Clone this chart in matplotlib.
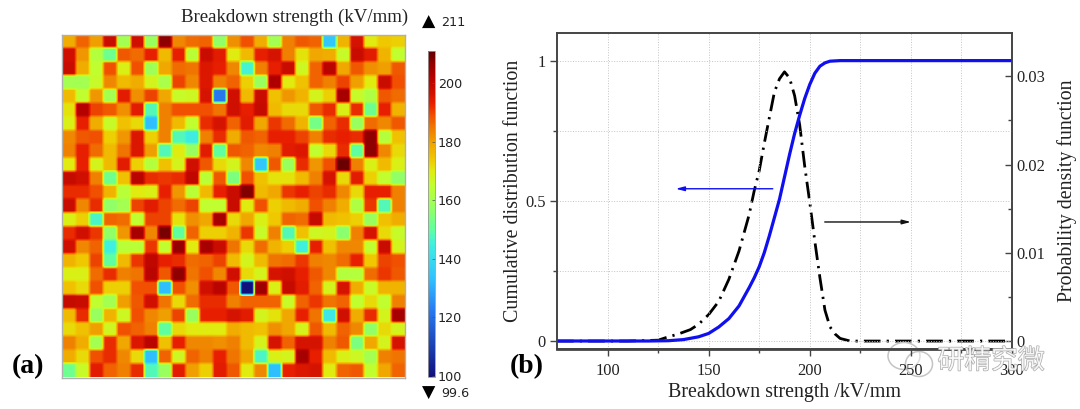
import numpy as np
import matplotlib
matplotlib.use("Agg")
import matplotlib.pyplot as plt
from matplotlib.colors import LinearSegmentedColormap
from matplotlib.patches import Ellipse
import matplotlib.patheffects as pe

W, H = 1080, 409

strength_rows = [
 [178,187,180,198,160,197,158,207,183,186,187,157,182, 189,178,160,184,188,187,135,177,196,170,174,173],
 [197,181,163,152,188,186,193,176,193,164,198,194,170, 176,193,196,184,171,179,178,166,198,194,177,165],
 [198,178,165,189,169,189,159,179,186,185,195,193,183, 146,184,193,198,167,187,201,179,188,182,180,188],
 [160,160,166,183,176,178,168,161,190,183,195,184,187, 173,158,203,170,175,187,184,190,180,170,198,189],
 [176,165,181,160,194,182,190,179,166,167,196,122,197, 176,198,175,181,177,168,173,204,166,162,188,186],
 [171,202,190,188,182,194,148,184,189,189,189,185,197, 193,199,176,172,172,188,192,169,192,152,193,177],
 [169,193,178,166,175,172,133,184,176,165,192,196,187, 194,179,191,186,177,153,187,192,158,186,183,188],
 [183,188,189,173,181,195,173,184,148,144,184,192,178, 188,187,193,193,190,184,192,193,192,207,163,175],
 [184,193,186,176,185,195,180,148,170,158,194,150,188, 187,183,184,194,195,165,172,192,150,207,183,172],
 [170,193,168,176,194,173,163,175,168,197,188,172,168, 183,135,188,158,192,181,189,210,184,169,176,169],
 [199,197,184,152,175,201,192,191,192,200,164,188,154, 189,175,171,171,176,184,196,172,194,173,165,157],
 [192,192,189,177,164,170,169,193,181,164,176,193,198, 208,176,179,191,193,190,192,183,172,193,193,184],
 [198,183,192,157,160,190,194,190,186,190,165,165,198, 170,189,173,176,178,189,184,178,162,191,148,184],
 [169,173,147,187,186,165,190,190,171,182,179,204,172, 179,169,174,187,186,199,176,175,173,158,175,178],
 [192,197,191,157,181,204,183,209,150,187,173,173,177, 191,166,184,148,175,167,168,156,184,196,172,166],
 [197,183,187,145,164,164,191,165,206,170,204,198,185, 172,186,177,173,145,193,175,183,183,165,198,168],
 [177,174,190,150,176,191,200,193,192,186,187,190,176, 168,176,185,186,191,184,183,186,193,174,190,189],
 [169,169,186,192,184,185,201,188,207,185,189,183,197, 172,168,196,197,193,188,183,163,163,186,191,188],
 [175,172,189,173,173,189,189,133,189,182,197,201,188, 100,205,169,199,194,187,168,196,178,166,177,177],
 [199,198,165,160,180,188,197,185,172,186,192,192,184, 187,187,187,166,187,191,185,187,165,172,165,184],
 [176,192,158,177,167,189,183,180,190,158,193,193,196, 194,168,171,179,193,185,143,197,178,192,168,204],
 [172,175,180,167,189,187,184,150,172,170,170,170,178, 176,175,182,179,168,188,176,187,183,157,172,168],
 [184,178,160,192,179,195,201,175,193,183,183,182,184, 176,168,196,187,196,196,184,188,154,179,168,196],
 [178,172,189,192,183,172,133,187,167,187,184,193,185, 179,147,169,168,204,193,176,169,167,160,184,185],
 [152,166,194,187,184,192,148,158,194,180,173,194,188, 170,183,133,193,195,196,170,187,188,165,179,187],
]
cbar_ticks = [100, 120, 140, 160, 180, 200]
map_min, map_max = 99.6, 211

scale_values = [99.6, 122, 133, 145, 150, 158, 165, 170, 174, 179, 184, 189, 193, 197, 203, 207, 211]
scale_colours = ["#10107c", "#2878f0", "#30c0ff", "#40f0e0", "#60ffa0", "#98ff60", "#c0ff30", "#e0ec10",
                 "#f0c800", "#f0a800", "#f08000", "#f05000", "#e82000", "#d01000", "#b00000", "#900000", "#600000"]

x_cdf = [75,120,130,137.5,145,150,155,160,165,170,172.5,175,177.5,180,182.5,185,187.5,190,192.5,195,197.5,200,202.5,205,207.5,210,215,230,300]
cdf_values = [0,0,0.001,0.005,0.015,0.027,0.05,0.08,0.125,0.19,0.225,0.265,0.315,0.375,0.44,0.505,0.585,0.665,0.74,0.805,0.865,0.915,0.955,0.98,0.992,0.998,1,1,1]

x_pdf = [75,110,125,129,135,141,145,150,155,160,165,170,172.5,175,177.5,180,182.5,185,187.5,190,192.5,195,197.5,200,202.5,205,207.5,210,212.5,215,220,300]
pdf_values = [0,0,0.0001,0.0004,0.0008,0.0013,0.0019,0.0030,0.0045,0.0070,0.0102,0.0143,0.0170,0.0193,0.0224,0.0253,0.0282,0.0297,0.0305,0.0298,0.0278,0.0245,0.0198,0.0157,0.0113,0.0072,0.0035,0.0016,0.0008,0.0003,0,0]

x_ticks = [100,150,200,250,300]
x_minor = [125,175,225,275]
cdf_ticks = [0,0.5,1]
cdf_minor = [0.25,0.75]
pdf_ticks = [0,0.01,0.02,0.03]
pdf_minor = [0.005,0.015,0.025]

SERIF = "Liberation Serif"
TXT = "#222222"

def rect(l, t, r, b):
    return [l/W, 1-b/H, (r-l)/W, (b-t)/H]

def ftext(x, y, s, **kw):
    kw.setdefault("ha", "center"); kw.setdefault("va", "center")
    return fig.text(x/W, 1-y/H, s, **kw)

fig = plt.figure(figsize=(W/100, H/100), dpi=100)

# ---- (a) map
scale_pos = [(v - map_min)/(map_max - map_min) for v in scale_values]
cmap = LinearSegmentedColormap.from_list("bar", list(zip(scale_pos, scale_colours)), N=512)
grid = np.array(strength_rows, dtype=float)
ax = fig.add_axes(rect(62, 35, 405, 377.5))
im = ax.imshow(np.kron(grid, np.ones((4, 4))), cmap=cmap, vmin=map_min, vmax=map_max,
               interpolation="bilinear", aspect="auto", extent=(0, 25, 25, 0))
ax.set_xticks([]); ax.set_yticks([])
for s in ax.spines.values():
    s.set_color("#b0b0b0"); s.set_linewidth(1)

cax = fig.add_axes(rect(428, 51, 435, 377))
cb = fig.colorbar(im, cax=cax)
cb.set_ticks(cbar_ticks)
cb.ax.tick_params(length=2, width=0.5, color="#555555", labelsize=9.2, labelcolor="#222222", pad=2, direction="in")
cb.outline.set_edgecolor("#999999"); cb.outline.set_linewidth(0.6)

ftext(295, 17.5, "Breakdown strength (kV/mm)", family=SERIF, fontsize=13.6, color=TXT)
ftext(429, 22, "\u25B2", fontsize=12.5, color="black")
ftext(441, 22.5, "211", ha="left", fontsize=9.2, color=TXT)
ftext(429, 393, "\u25BC", fontsize=12.5, color="black")
ftext(441, 393.5, "99.6", ha="left", fontsize=9.2, color=TXT)
ftext(12, 367, "(a)", ha="left", family=SERIF, fontweight="bold", fontsize=20, color="black")
ftext(510, 367, "(b)", ha="left", family=SERIF, fontweight="bold", fontsize=20, color="black")

# ---- (b) curves
a1 = fig.add_axes(rect(557, 33, 1012, 349))
a1.set_xlim(75, 300)
a1.set_ylim(-0.0285, 1.0985)
a2 = a1.twinx()
a2.set_ylim(-0.0009, 0.0349)

a1.set_xticks(x_ticks); a1.set_xticks(x_minor, minor=True)
a1.set_yticks(cdf_ticks); a1.set_yticks(cdf_minor, minor=True)
a2.set_yticks(pdf_ticks); a2.set_yticks(pdf_minor, minor=True)
a1.set_yticklabels(["0", "0.5", "1"])
a2.set_yticklabels(["0", "0.01", "0.02", "0.03"])
a1.grid(True, which="both", linestyle=":", linewidth=0.7, color="#c4c4c4")
a1.set_axisbelow(True)
a1.tick_params(axis="both", which="major", length=5, width=1, color="#444444", labelsize=11.8, labelcolor=TXT, pad=3)
a1.tick_params(axis="x", which="major", pad=5)
a1.tick_params(axis="both", which="minor", length=3, width=1, color="#444444")
a2.tick_params(axis="y", which="major", direction="in", length=5, width=1, color="#444444", labelsize=11.8, labelcolor=TXT, pad=3)
a2.tick_params(axis="y", which="minor", direction="in", length=3, width=1, color="#444444")
for lab in a1.get_xticklabels() + a1.get_yticklabels() + a2.get_yticklabels():
    lab.set_family(SERIF)
for s in list(a1.spines.values()) + list(a2.spines.values()):
    s.set_color("#444444"); s.set_linewidth(1.2)
a1.spines["bottom"].set_linewidth(2)

a2.plot(x_pdf, pdf_values, color="black", linewidth=2.0, linestyle=(0, (6, 2.2, 0.8, 2.2)), clip_on=False)
a1.set_zorder(a2.get_zorder() + 1)
a1.patch.set_visible(False)
a1.plot(x_cdf, cdf_values, color="#0f0ff0", linewidth=2.3)

a1.annotate("", xy=(133.7, 0.543), xytext=(181.7, 0.543),
            arrowprops=dict(arrowstyle="-|>,head_width=0.13,head_length=0.5", color="#0f0ff0", lw=1, shrinkA=0, shrinkB=0))
a1.annotate("", xy=(250, 0.4245), xytext=(207.4, 0.4245),
            arrowprops=dict(arrowstyle="-|>,head_width=0.13,head_length=0.5", color="#111111", lw=1, shrinkA=0, shrinkB=0))

ftext(784, 392, "Breakdown strength /kV/mm", family=SERIF, fontsize=14.4, color=TXT)
ftext(513, 191, "Cumulative distribution function", rotation=90, family=SERIF, fontsize=14.4, color=TXT)
ftext(1067, 191, "Probability density function", rotation=90, family=SERIF, fontsize=14.3, color=TXT)

# ---- watermark
ov = fig.add_axes([0, 0, 1, 1], facecolor="none")
ov.set_xlim(0, W); ov.set_ylim(H, 0); ov.axis("off")
for cx, cy, w, h in [(904, 356, 32, 27), (919, 364, 27, 25)]:
    ov.add_patch(Ellipse((cx, cy), w, h, facecolor=(1, 1, 1, 0.45), edgecolor="#c4c4c4", linewidth=1.1))
ftext(991, 361, "\u7814\u7cbe\u7a76\u5fae", family=["Noto Sans CJK SC", "DejaVu Sans"], fontsize=19.3,
      color=(1, 1, 1, 0.8)).set_path_effects([pe.Stroke(linewidth=0.9, foreground="#a8a8a8"), pe.Normal()])

fig.savefig("out.png", dpi=100)
